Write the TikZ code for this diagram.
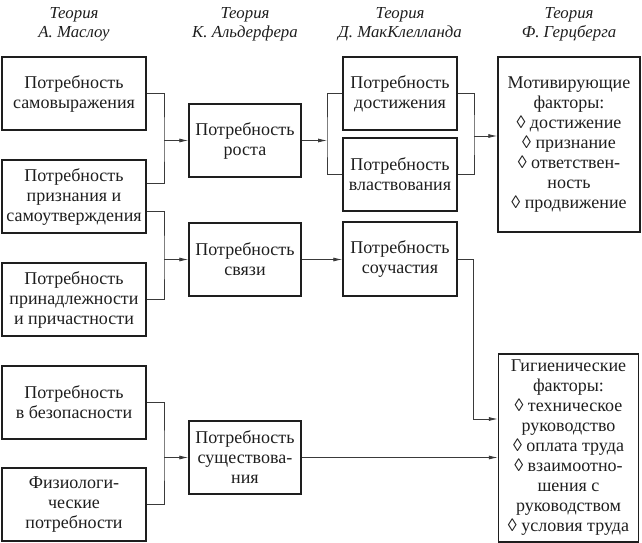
\documentclass[tikz,border=0pt]{standalone}
\usepackage{fontspec}
\setmainfont{Liberation Serif}
\usetikzlibrary{arrows.meta,calc}
\definecolor{SchemeInk}{HTML}{1E1E1E}
\definecolor{SchemeWire}{HTML}{3A3A3A}

\begin{document}
\begin{tikzpicture}[x=1pt,y=-1pt,
    needbox/.style={draw=SchemeInk,line width=1.5pt,text=SchemeInk,align=center,
      inner sep=0pt,font=\fontsize{18}{20}\selectfont},
    theory/.style={text=SchemeInk,align=center,inner sep=0pt,
      font=\itshape\fontsize{16.8}{19}\selectfont},
    wire/.style={SchemeWire,line width=0.8pt},
    feed/.style={wire,-{Latex[length=9pt,width=4pt]}}]
        \useasboundingbox (0,0) rectangle (642,543);

        \node[theory] (tMaslow) at (74,24.5) {Теория\\А. Маслоу};
        \node[theory] (tAlderfer) at (245,24.5) {Теория\\К. Альдерфера};
        \node[theory] (tMcClelland) at (400,24.5) {Теория\\Д. МакКлелланда};
        \node[theory] (tHerzberg) at (569,24.5) {Теория\\Ф. Герцберга};

        \node[needbox,minimum width=144pt,minimum height=73pt] (m1) at (74,93.5)
          {Потребность\\самовыражения};
        \node[needbox,minimum width=144pt,minimum height=73pt] (m2) at (74,196.5)
          {Потребность\\признания и\\самоутверждения};
        \node[needbox,minimum width=144pt,minimum height=73pt] (m3) at (74,299.5)
          {Потребность\\принадлежности\\и причастности};
        \node[needbox,minimum width=144pt,minimum height=73pt] (m4) at (74,402.5)
          {Потребность\\в безопасности};
        \node[needbox,minimum width=144pt,minimum height=73pt] (m5) at (74,504.5)
          {Физиологи-\\ческие\\потребности};

        \node[needbox,minimum width=112pt,minimum height=73pt] (a1) at (245,140.5)
          {Потребность\\роста};
        \node[needbox,minimum width=112pt,minimum height=73pt] (a2) at (245,259.5)
          {Потребность\\связи};
        \node[needbox,minimum width=112pt,minimum height=73pt] (a3) at (245,457.5)
          {Потребность\\существова-\\ния};

        \node[needbox,minimum width=114pt,minimum height=73pt] (k1) at (400,93.5)
          {Потребность\\достижения};
        \node[needbox,minimum width=114pt,minimum height=73pt] (k2) at (400,174.5)
          {Потребность\\властвования};
        \node[needbox,minimum width=114pt,minimum height=74pt] (k3) at (400,259)
          {Потребность\\соучастия};

        \node[needbox,minimum width=142pt,minimum height=175pt] (g1) at (569,144.5)
          {Мотивирующие\\факторы:\\◊ достижение\\◊ признание\\◊ ответствен-\\ность\\◊ продвижение};
        \node[needbox,minimum width=140pt,minimum height=188pt] (g2) at (568.5,448)
          {Гигиенические\\факторы:\\◊ техническое\\руководство\\◊ оплата труда\\◊ взаимоотно-\\шения с\\руководством\\◊ условия труда};

        \coordinate (j1) at (164,140.5);
        \coordinate (j2) at (164,259.5);
        \coordinate (j3) at (164,457.5);
        \coordinate (j4) at (327,140.5);
        \coordinate (j5) at (474,136);
        \coordinate (j6) at (473,419);

        \draw[wire] (m1.east) -| (j1) |- ($(m2.east)+(0,-13.5)$);
        \draw[feed] (j1) -- (a1.west);
        \draw[wire] ($(m2.east)+(0,14.5)$) -| (j2) |- (m3.east);
        \draw[feed] (j2) -- (a2.west);
        \draw[wire] (m4.east) -| (j3) |- (m5.east);
        \draw[feed] (j3) -- (a3.west);

        \draw[feed] (a1.east) -- (j4);
        \draw[wire] (k1.west) -| (j4) |- (k2.west);
        \draw[wire] (k1.east) -| (j5) |- (k2.east);
        \draw[feed] (j5) -- (j5 -| g1.west);

        \draw[feed] (a2.east) -- (a2.east -| k3.west);
        \draw[wire] (k3.east) -| (j6);
        \draw[feed] (j6) -- (j6 -| g2.west);
        \draw[feed] (a3.east) -- (a3.east -| g2.west);
\end{tikzpicture}
\end{document}
